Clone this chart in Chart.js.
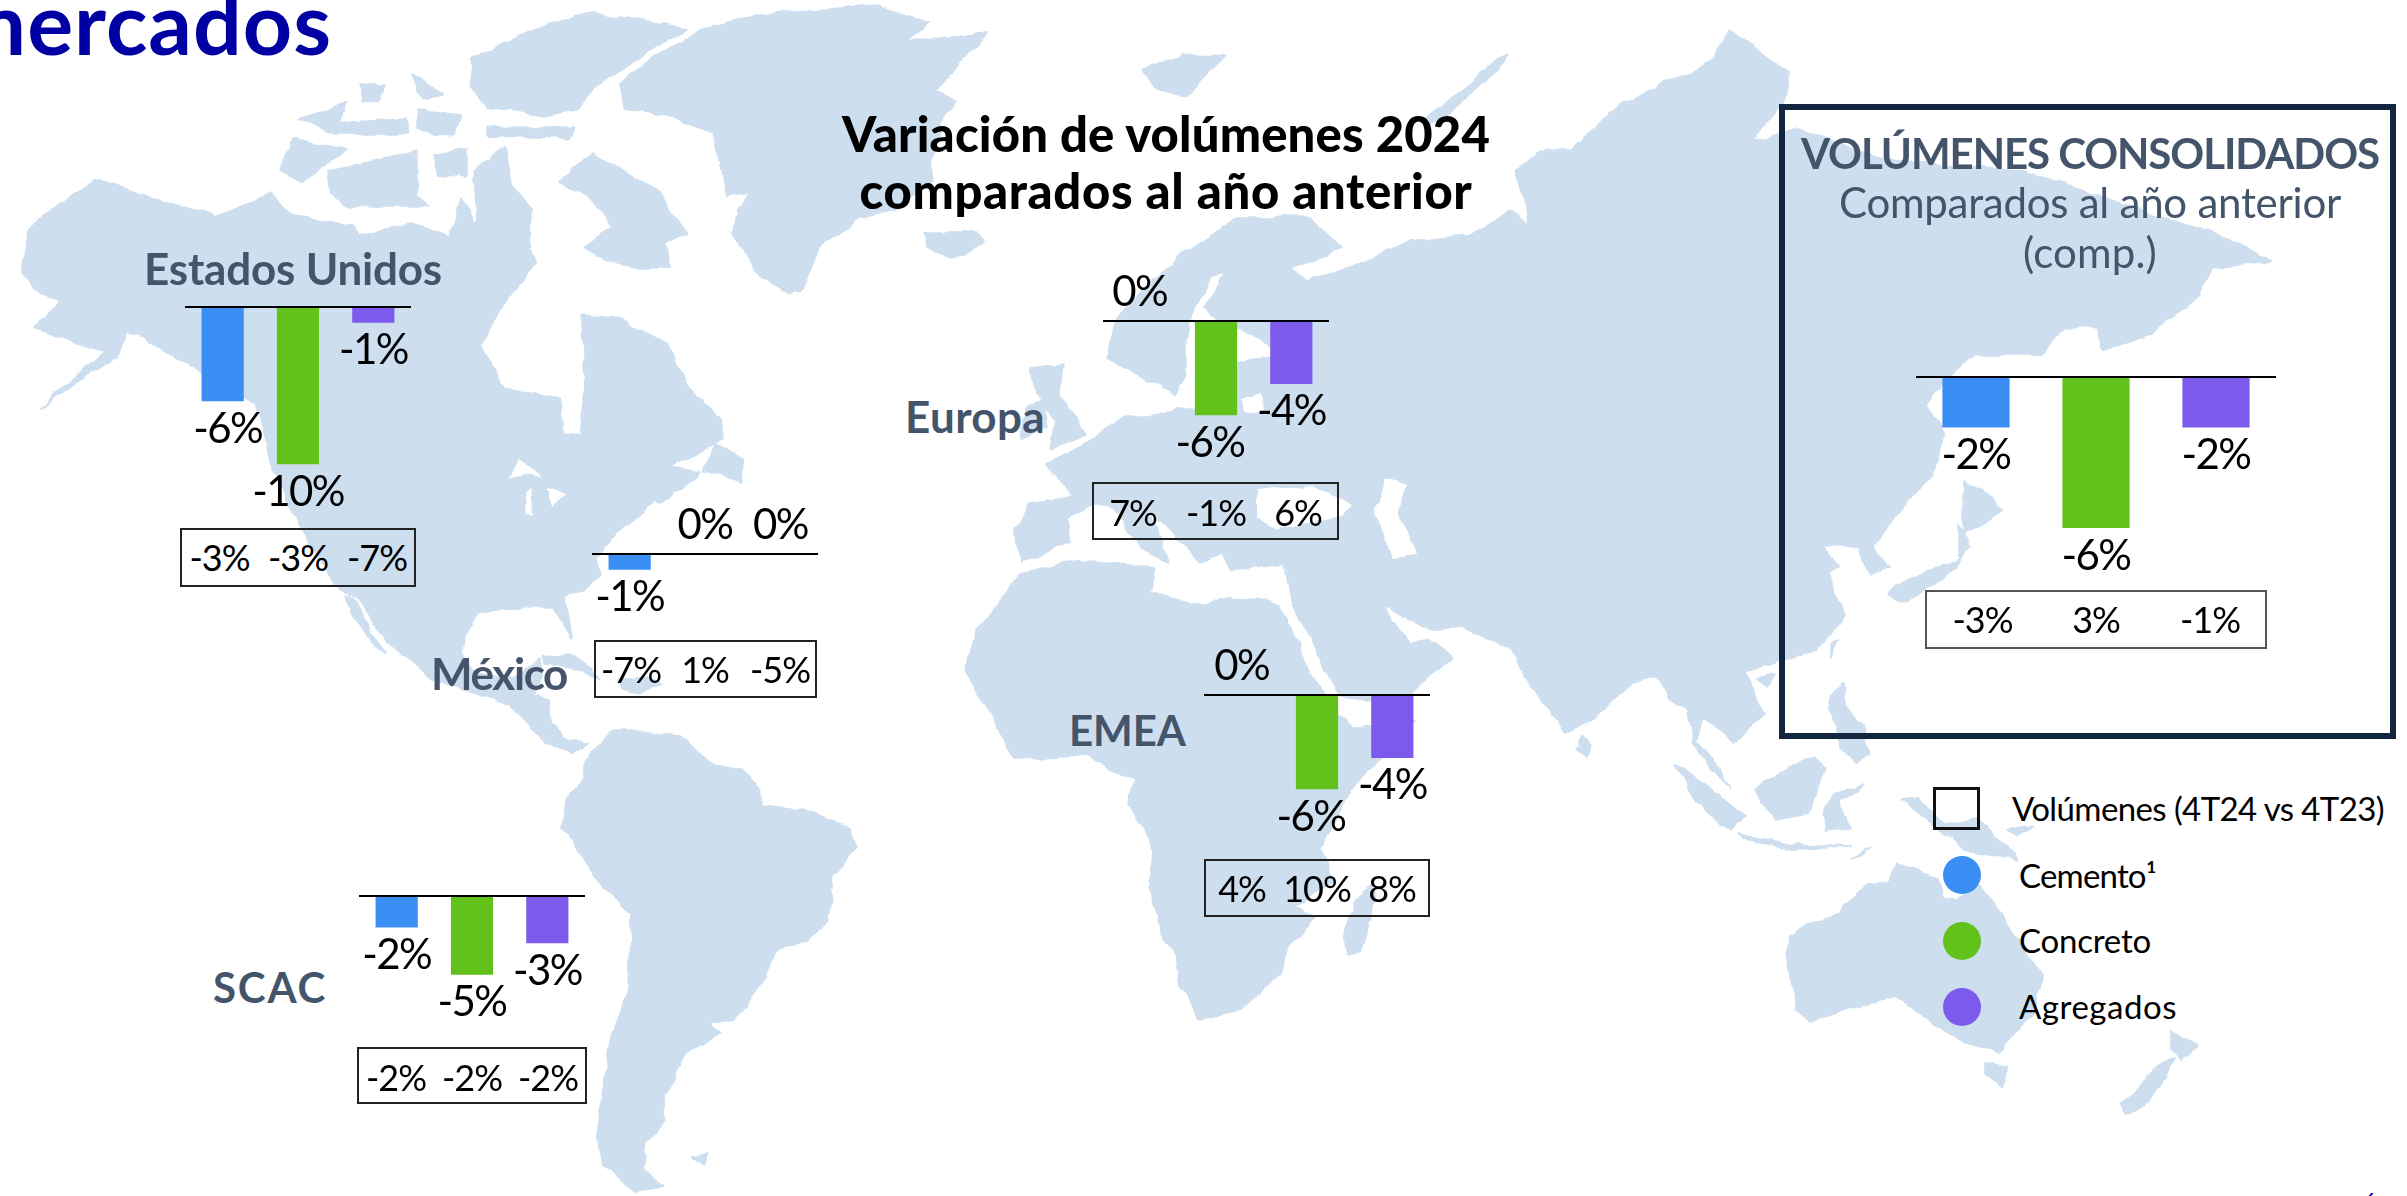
<!DOCTYPE html>
<html lang="es">
<head>
<meta charset="utf-8">
<title>Variación de volúmenes 2024</title>
<script src="https://cdn.jsdelivr.net/npm/chart.js@4/dist/chart.umd.js"></script>
<style>
html,body{margin:0;padding:0;width:2407px;height:1196px;overflow:hidden;background:#fff;font-family:Lato,sans-serif}
#stage{position:relative;width:2407px;height:1196px;overflow:hidden}
#map{position:absolute;left:0;top:0}
canvas{position:absolute}
.t{position:absolute;white-space:nowrap;line-height:1}
.box{position:absolute;box-sizing:border-box}
.dot{position:absolute;border-radius:50%}
</style>
</head>
<body>
<div id="stage">
<svg id="map" width="2407" height="1196" viewBox="0 0 2407 1196" xmlns="http://www.w3.org/2000/svg">
<defs>
<filter id="coast" x="0" y="0" width="100%" height="100%" filterUnits="objectBoundingBox" color-interpolation-filters="sRGB">
<feTurbulence type="fractalNoise" baseFrequency="0.04" numOctaves="3" seed="4" result="n"/>
<feDisplacementMap in="SourceGraphic" in2="n" scale="9" xChannelSelector="R" yChannelSelector="G" result="d"/>
<feGaussianBlur in="d" stdDeviation="0.7"/>
</filter>
</defs>
<g filter="url(#coast)">
<rect x="0" y="0" width="2407" height="1196" fill="#fff"/>
<g fill="#cddeef" stroke="#cddeef" stroke-width="1.5" stroke-linejoin="round">
<!-- North America -->
<path d="M22 273L30 227 92 180 152 198 217 217 271 194 293 217 352 225 358 237 412 223 450 237 461 198 477 225 474 170 504 146 512 186 534 210 528 241 537 263 504 304 481 344 504 387 558 399 564 433 580 435 585 395 583 316 623 320 667 344 691 391 721 419 724 439 700 452 660 470 630 473 670 467 700 473 660 503 655 500 611 540 597 558 602 575 566 598 572 638 553 607 517 607 478 615 464 633 462 651 475 673 513 678 540 660 542 677 531 695 549 700 551 722 566 740 588 742 571 753 544 742 531 726 509 704 477 693 433 682 407 655 398 651 373 624 358 598 338 589 293 514 271 463 255 403 238 395 141 336 125 332 117 356 41 407 106 352 33 328 60 304 33 285Z"/>
<path d="M344 595L353 615 375 646 387 653 371 633 355 600Z"/>
<!-- Arctic Canada -->
<path d="M560 180L593 153 657 193 687 233 667 243 670 267 623 267 583 247 613 227 590 197Z"/>
<path d="M328 170L390 158 417 150 417 194 428 206 347 206 331 194Z"/>
<path d="M282 170L293 138 347 150 325 166 304 182Z"/>
<path d="M472 59L504 43 560 20 593 13 687 28 650 50 603 80 577 110 542 116 488 107 470 85Z"/>
<path d="M488 127L574 127 569 138 488 136Z"/>
<path d="M298 119L347 103 336 134Z"/>
<path d="M333 123L407 119 407 134 336 134Z"/>
<path d="M358 83L385 83 379 103 363 101Z"/>
<path d="M412 75L444 95 423 99Z"/>
<path d="M417 111L461 115 455 134 417 130Z"/>
<path d="M434 154L466 150 466 178 439 174Z"/>
<path d="M703 473L717 443 740 460 742 480 720 473Z"/>
<!-- Greenland, Iceland -->
<path d="M650 60L700 30 773 13 877 5 930 23 903 40 987 33 967 57 937 88 957 103 940 123 930 160 933 180 893 210 860 217 837 237 817 247 800 293 790 295 760 280 733 233 737 210 750 193 727 197 720 160 713 133 677 117 627 107 617 87Z"/>
<path d="M923 233L977 233 985 243 953 257 927 247Z"/>
<!-- Caribbean -->
<path d="M542 658L566 653 593 671 600 680 570 668 545 665Z"/>
<path d="M617 680L640 676 663 685 640 692 620 688Z"/>
<!-- South America -->
<path d="M584 762L611 731 637 731 682 735 708 762 744 771 762 788 762 806 802 811 850 828 857 846 833 877 828 922 806 939 775 953 766 979 735 1019 708 1024 719 1033 686 1055 664 1095 664 1121 646 1144 642 1166 664 1188 637 1192 602 1166 597 1135 611 1041 628 988 631 913 602 886 575 846 562 828 566 802 584 780Z"/>
<path d="M691 1157L711 1155 704 1166Z"/>
<!-- Eurasia -->
<path d="M1107 357L1114 319 1181 255 1238 217 1308 217 1340 249 1289 268 1308 281 1346 268 1410 242 1468 236 1512 210 1538 236 1522 255 1530 215 1515 170 1540 150 1570 150 1621 104 1714 60 1730 30 1790 71 1790 93 1752 142 1796 128 1878 158 2020 170 2151 213 2233 240 2271 262 2211 268 2200 295 2151 333 2102 350 2099 328 2064 328 2042 355 1976 355 1943 383 1927 404 1946 437 1932 475 1889 525 1872 546 1889 568 1872 574 1856 546 1823 546 1840 568 1829 574 1845 617 1817 649 1779 661 1745 672 1753 691 1764 714 1734 741 1703 718 1696 741 1730 786 1707 767 1694 741 1688 710 1669 699 1659 676 1633 682 1589 721 1566 733 1531 689 1512 650 1461 628 1423 628 1381 606 1410 644 1429 638 1452 657 1410 693 1367 700 1340 697 1312 645 1297 612 1289 593 1283 564 1232 571 1219 548 1244 539 1200 561 1181 542 1149 510 1168 561 1142 548 1110 504 1091 504 1066 517 1072 542 1021 561 1015 529 1028 504 1072 497 1047 466 1091 440 1123 415 1155 415 1181 408 1232 408 1225 363 1283 357 1257 338 1219 319 1206 306 1225 271 1212 274 1187 325 1187 376 1174 395 1155 383Z"/>
<path d="M1142 70L1181 54 1225 57 1187 96 1155 89Z"/>
<path d="M1423 121L1506 54 1503 64 1448 115 1429 128Z"/>
<path d="M1030 367L1063 363 1060 395 1085 435 1050 450 1055 420 1037 395Z"/>
<path d="M1024 408L1043 399 1047 427 1021 440Z"/>
<!-- Africa -->
<path d="M1034 571L1066 561 1155 568 1149 593 1206 606 1232 596 1280 605 1295 640 1320 690 1335 714 1353 727 1415 722 1400 745 1367 770 1347 797 1320 847 1333 880 1295 906 1315 918 1289 944 1280 975 1240 1010 1200 1018 1180 985 1174 950 1163 937 1150 887 1153 850 1128 803 1133 780 1103 763 1082 756 1015 759 989 714 964 670 977 631 1021 574Z"/>
<path d="M1369 885L1376 900 1360 950 1347 955 1345 925 1355 900Z"/>
<!-- East and South-East Asia islands -->
<path d="M1965 481L2004 508 1965 536Z"/>
<path d="M1960 525L1960 557 1900 585 1889 596 1900 601 1943 579 1971 546Z"/>
<path d="M1831 645L1840 639 1831 658Z"/>
<path d="M1756 680L1775 674 1768 686Z"/>
<path d="M1582 735L1590 745 1585 757 1576 750Z"/>
<path d="M1829 703L1842 684 1844 706 1863 725 1870 756 1855 762 1840 748 1833 718Z"/>
<path d="M1756 788L1813 756 1825 767 1810 813 1775 819 1764 805Z"/>
<path d="M1675 763L1699 779 1745 817 1730 832 1696 801Z"/>
<path d="M1739 834L1794 845 1851 847 1793 849 1745 840Z"/>
<path d="M1823 813L1833 794 1863 786 1840 801 1850 828 1827 830Z"/>
<path d="M1901 800L1916 798 1947 824 1977 817 2007 847 2019 860 1966 851 1947 836Z"/>
<path d="M1852 859L1872 847 1863 855Z"/>
<path d="M2007 830L2034 824 2015 836Z"/>
<!-- Oceania -->
<path d="M1787 935L1840 912 1867 883 1890 883 1897 866 1939 878 1943 897 1958 900 1977 885 1992 900 2015 935 2042 976 2034 1011 2015 1033 2000 1052 1958 1041 1931 1022 1897 997 1855 1007 1810 1022 1798 1011 1785 954Z"/>
<path d="M1985 1064L2009 1064 2000 1087 1988 1079Z"/>
<path d="M2171 1030L2198 1045 2182 1060 2171 1049Z"/>
<path d="M2175 1060L2152 1098 2125 1113 2121 1104 2156 1068Z"/>
</g>
<g fill="#fff">
<path d="M1257 491L1308 485 1353 504 1340 517 1276 529 1257 517Z"/>
<path d="M1385 478L1410 485 1397 510 1417 555 1391 558 1375 510Z"/>
<path d="M507 478L520 461 542 478 525 474Z"/>
<path d="M525 490L531 487 534 518 528 516Z"/>
<path d="M547 487L566 495 552 508Z"/>
<path d="M1243 400L1260 393 1263 410 1245 412Z"/>
</g>
</g>
</svg>
</div>
<script>
/* ---------- data ---------- */
const categories = ['Cemento', 'Concreto', 'Agregados'];
const barColors = ['#3b8ef3', '#62c11b', '#7c5aec'];

const usValues = [-6, -10, -1];
const usQuarter = ['-3%', '-3%', '-7%'];
const mexicoValues = [-1, 0, 0];
const mexicoQuarter = ['-7%', '1%', '-5%'];
const europeValues = [0, -6, -4];
const europeQuarter = ['7%', '-1%', '6%'];
const emeaValues = [0, -6, -4];
const emeaQuarter = ['4%', '10%', '8%'];
const scacValues = [-2, -5, -3];
const scacQuarter = ['-2%', '-2%', '-2%'];
const consolidatedValues = [-2, -6, -2];
const consolidatedQuarter = ['-3%', '3%', '-1%'];

/* ---------- layout only ---------- */
const panels = [
  {v: usValues, q: usQuarter, x: 185, w: 226, y0: 307, ppu: 15.73, nudge: [5, 0, 0],
   box: [180, 528, 236, 59], qx: [219.5, 298, 377], qy: 557},
  {v: mexicoValues, q: mexicoQuarter, x: 592, w: 226, y0: 554, ppu: 15.73, nudge: [0, 0, 0],
   box: [594, 640, 223, 58], qx: [631, 705, 780], qy: 669},
  {v: europeValues, q: europeQuarter, x: 1103, w: 226, y0: 321, ppu: 15.73, nudge: [-1, -6, 0],
   box: [1092, 482, 247, 58], qx: [1133, 1216, 1298], qy: 512},
  {v: emeaValues, q: emeaQuarter, x: 1204, w: 226, y0: 695, ppu: 15.73, nudge: [0, -6, 0],
   box: [1204, 859, 226, 58], qx: [1242, 1317, 1392], qy: 888},
  {v: scacValues, q: scacQuarter, x: 359, w: 226, y0: 896, ppu: 15.73, nudge: [0, 0, 0],
   box: [357, 1047, 230, 57], qx: [396, 472, 548], qy: 1077},
  {v: consolidatedValues, q: consolidatedQuarter, x: 1916, w: 360, y0: 377, ppu: 25.13, nudge: [0, 0, 0],
   box: [1925, 590, 342, 59], qx: [1982.5, 2096, 2210], qy: 619, edge: '#555'}
];

const texts = [
  {s: 'mercados', right: 332, cy: 22, size: 86, weight: 700, color: '#0000a3', ls: 1},
  {s: 'Variación de volúmenes 2024', cx: 1166, cy: 133, size: 49, weight: 900, color: '#000', w: 648},
  {s: 'comparados al año anterior', cx: 1166, cy: 190, size: 49, weight: 900, color: '#000', w: 613},
  {s: 'Estados Unidos', cx: 293, cy: 268, size: 44, weight: 700, color: '#44546a', w: 298},
  {s: 'Europa', cx: 975, cy: 416, size: 44, weight: 700, color: '#44546a', w: 140},
  {s: 'México', cx: 499, cy: 673, size: 44, weight: 700, color: '#44546a', w: 136},
  {s: 'EMEA', cx: 1127.5, cy: 730, size: 42, weight: 700, color: '#44546a', w: 117},
  {s: 'SCAC', cx: 270, cy: 987, size: 42, weight: 700, color: '#44546a', w: 114},
  {s: 'VOLÚMENES CONSOLIDADOS', cx: 2090, cy: 153, size: 42, weight: 700, color: '#44546a', w: 578},
  {s: 'Comparados al año anterior', cx: 2090, cy: 202, size: 42, weight: 400, color: '#44546a', w: 502},
  {s: '(comp.)', cx: 2090, cy: 252, size: 42, weight: 400, color: '#44546a', w: 134},
  {s: 'Volúmenes (4T24 vs 4T23)', left: 2012, cy: 808, size: 33, weight: 400, color: '#000', w: 372},
  {s: 'Cemento¹', left: 2019, cy: 875, size: 33, weight: 400, color: '#000', w: 137},
  {s: 'Concreto', left: 2019, cy: 940, size: 33, weight: 400, color: '#000', w: 132},
  {s: 'Agregados', left: 2019, cy: 1006, size: 33, weight: 400, color: '#000', w: 158},
  {s: '6', cx: 2370, cy: 1200, size: 22, weight: 400, color: '#0000a3'}
];
const legendDots = [[1962, 875, barColors[0]], [1962, 941, barColors[1]], [1962, 1007, barColors[2]]];

const stage = document.getElementById('stage');

function addText(o) {
  const el = document.createElement('div');
  el.className = 't';
  el.textContent = o.s;
  el.style.fontSize = o.size + 'px';
  el.style.fontWeight = o.weight;
  el.style.color = o.color;
  if (o.ls) el.style.letterSpacing = o.ls + 'px';
  stage.appendChild(el);
  if (o.w) {
    const natural = el.getBoundingClientRect().width;
    el.style.letterSpacing = ((o.w - natural) / o.s.length) + 'px';
  }
  const width = el.getBoundingClientRect().width;
  const left = o.left !== undefined ? o.left : o.right !== undefined ? o.right - width : o.cx - width / 2;
  el.style.left = left + 'px';
  el.style.top = (o.cy - o.size / 2) + 'px';
}

const valueLabels = {
  id: 'valueLabels',
  afterDatasetsDraw(chart, args, opts) {
    const {ctx} = chart;
    const meta = chart.getDatasetMeta(0);
    ctx.save();
    ctx.font = '400 42px Lato';
    ctx.letterSpacing = '-1.6px';
    ctx.fillStyle = '#000';
    ctx.textAlign = 'center';
    ctx.textBaseline = 'middle';
    meta.data.forEach((bar, i) => {
      const v = chart.data.datasets[0].data[i];
      const y = v < 0 ? bar.y + 28 : bar.y - 29;
      ctx.fillText(v + '%', bar.x + opts.nudge[i], y);
    });
    ctx.restore();
  }
};

panels.forEach(p => {
  const top = 3, bottom = -14;
  const h = Math.round((top - bottom) * p.ppu);
  const c = document.createElement('canvas');
  c.style.left = p.x + 'px';
  c.style.top = (p.y0 - Math.round(top * p.ppu)) + 'px';
  c.style.width = p.w + 'px';
  c.style.height = h + 'px';
  c.width = p.w;
  c.height = h;
  stage.appendChild(c);
  new Chart(c.getContext('2d'), {
    type: 'bar',
    data: {labels: categories, datasets: [{data: p.v, backgroundColor: barColors, borderWidth: 0,
      barPercentage: 0.56, categoryPercentage: 1}]},
    options: {
      responsive: false, animation: false, devicePixelRatio: 1,
      layout: {padding: 0},
      plugins: {legend: {display: false}, tooltip: {enabled: false}, title: {display: false},
        valueLabels: {nudge: p.nudge}},
      scales: {
        x: {position: {y: 0}, grid: {display: false}, ticks: {display: false},
            border: {display: true, color: '#000', width: 2, z: 1}},
        y: {display: false, min: bottom, max: top}
      }
    },
    plugins: [valueLabels]
  });
  const b = document.createElement('div');
  b.className = 'box';
  Object.assign(b.style, {left: p.box[0] + 'px', top: p.box[1] + 'px', width: p.box[2] + 'px',
    height: p.box[3] + 'px', border: '2px solid ' + (p.edge || '#222')});
  stage.appendChild(b);
  p.q.forEach((s, i) => addText({s, cx: p.qx[i], cy: p.qy, size: 36, weight: 400, color: '#000', ls: -1}));
});

const frame = document.createElement('div');
frame.className = 'box';
Object.assign(frame.style, {left: '1779px', top: '104px', width: '617px', height: '635px', border: '6px solid #12263f'});
stage.appendChild(frame);

const sq = document.createElement('div');
sq.className = 'box';
Object.assign(sq.style, {left: '1933px', top: '787px', width: '47px', height: '43px', border: '3px solid #111'});
stage.appendChild(sq);

legendDots.forEach(([x, y, col]) => {
  const d = document.createElement('div');
  d.className = 'dot';
  Object.assign(d.style, {left: (x - 19) + 'px', top: (y - 19) + 'px', width: '38px', height: '38px', background: col});
  stage.appendChild(d);
});

texts.forEach(addText);
</script>
</body>
</html>
